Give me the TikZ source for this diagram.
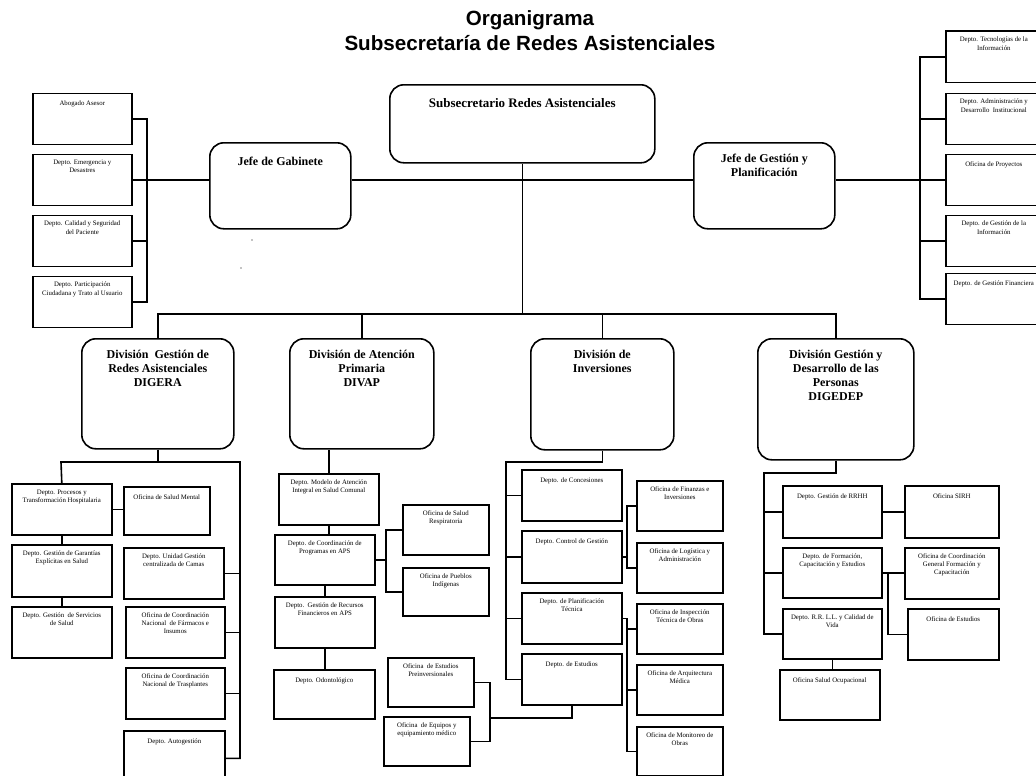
\documentclass[tikz,border=0pt]{standalone}
\usepackage{fontspec}
\setmainfont{Liberation Serif}
\newfontfamily\titlefont{Liberation Sans}
\usetikzlibrary{positioning}

\begin{document}
\begin{tikzpicture}[
  x=1pt, y=-1pt,
  line width=1.6pt,
  lab/.style={anchor=north, align=center, inner sep=0pt, yshift=-5.8pt,
    font=\fontsize{6.8}{8.3}\selectfont, execute at begin node={\rule{0pt}{6.5pt}}},
  blab/.style={anchor=north, align=center, inner sep=0pt, yshift=-11.5pt,
    font=\bfseries\fontsize{12}{13.8}\selectfont, execute at begin node={\rule{0pt}{11pt}}},
  box/.style={draw, anchor=north west, inner sep=0pt, minimum width=100pt,
    minimum height=51pt, label={[lab]north:{#1}}},
  rbox/.style={draw, anchor=north west, inner sep=0pt, rounded corners=14pt,
    label={[blab]north:{#1}}},
]
\useasboundingbox (0,0) rectangle (1036,776);
\clip (0,0) rectangle (1036,776);

% Title
\node[font=\titlefont\bfseries\fontsize{20.6}{25}\selectfont, align=center] (title) at (530,30.5)
  {Organigrama\\Subsecretaría de Redes Asistenciales};

% Top level
\node[draw, anchor=north west, inner sep=0pt, rounded corners=14pt, minimum width=265pt, minimum height=78pt,
  label={[blab, font=\bfseries\fontsize{13}{15}\selectfont]north:{Subsecretario Redes Asistenciales}}] (subsec) at (389,84) {};
\node[rbox={Jefe de Gabinete}, minimum width=141pt, minimum height=86pt] (gab) at (209,142) {};
\node[rbox={Jefe de Gestión y\\Planificación}, minimum width=141pt, minimum height=86pt] (gest) at (693,142) {};

% Divisions
\node[rbox={División\ \ Gestión de\\Redes Asistenciales\\DIGERA}, minimum width=152pt, minimum height=110pt] (digera) at (81,338) {};
\node[rbox={División de Atención\\Primaria\\DIVAP}, minimum width=144pt, minimum height=110pt] (divap) at (289,338) {};
\node[rbox={División de\\Inversiones}, minimum width=143pt, minimum height=111pt] (inver) at (530,338) {};
\node[rbox={División Gestión y\\Desarrollo de las\\Personas\\DIGEDEP}, minimum width=156pt, minimum height=121pt] (digedep) at (757,338) {};

% Gabinete staff
\node[box={Abogado Asesor}, minimum width=99pt] (abog) at (32,92.5) {};
\node[box={Depto. Emergencia y\\Desastres}, minimum width=99pt] (emer) at (32,153.5) {};
\node[box={Depto. Calidad y Seguridad\\del Paciente}, minimum width=99pt] (cal) at (32,214.5) {};
\node[box={Depto. Participación\\Ciudadana y Trato al Usuario}, minimum width=99pt] (part) at (32,275.5) {};

% Gestion y Planificacion staff
\node[box={Depto. Tecnologías de la\\Información}, minimum width=96pt] (tic) at (945,30.5) {};
\node[box={Depto. Administración y\\Desarrollo\ \ Institucional}, minimum width=96pt] (adm) at (945,92.5) {};
\node[box={Oficina de Proyectos}, minimum width=96pt] (proy) at (945,153.5) {};
\node[box={Depto. de Gestión de la\\Información}, minimum width=96pt] (ginfo) at (945,214.5) {};
\node[box={Depto. de Gestión Financiera}, minimum width=96pt] (gfin) at (945,272.5) {};

% DIGERA
\node[box={Depto. Procesos y\\Transformación Hospitalaria}] (proc) at (11,483) {};
\node[box={Depto. Gestión de Garantías\\Explícitas en Salud}, minimum height=52pt] (garant) at (11,544) {};
\node[box={Depto. Gestión\ \ de Servicios\\de Salud}] (serv) at (11,606) {};
\node[box={Oficina de Salud Mental}, minimum width=86pt, minimum height=48pt] (smental) at (123,486) {};
\node[box={Depto. Unidad Gestión\\centralizada de Camas}] (camas) at (123,547) {};
\node[box={Oficina de Coordinación\\Nacional\ \ de Fármacos e\\Insumos}, minimum width=99pt] (farm) at (125,606) {};
\node[box={Oficina de Coordinación\\Nacional de Trasplantes}, minimum width=99pt] (traspl) at (125,667) {};
\node[box={Depto. Autogestión}, minimum width=101pt, minimum height=55pt] (autog) at (123,730) {};

% DIVAP
\node[box={Depto. Modelo de Atención\\Integral en Salud Comunal}] (modelo) at (278,473) {};
\node[box={Depto. de Coordinación de\\Programas en APS}, minimum height=50pt] (progaps) at (274,534) {};
\node[box={Depto.\ \ Gestión de Recursos\\Financieros en APS}] (recfin) at (274,596) {};
\node[box={Depto. Odontológico}, minimum width=101pt, minimum height=49pt] (odonto) at (273,669) {};
\node[box={Oficina de Salud\\Respiratoria}, minimum width=86pt, minimum height=50pt] (sresp) at (402,504) {};
\node[box={Oficina de Pueblos\\Indígenas}, minimum width=86pt, minimum height=48pt] (pueblos) at (402,567) {};
\node[box={Oficina\ \ de Estudios\\Preinversionales}, minimum width=86pt, minimum height=49pt] (preinv) at (387,657) {};
\node[box={Oficina\ \ de Equipos y\\equipamiento médico}, minimum width=86pt, minimum height=49pt] (equipos) at (383,716) {};

% Inversiones
\node[box={Depto. de Concesiones}] (conc) at (521,469) {};
\node[box={Depto. Control de Gestión}, minimum height=52pt] (ctrl) at (521,530) {};
\node[box={Depto. de Planificación\\Técnica}] (plan) at (521,592) {};
\node[box={Depto. de Estudios}] (estud) at (521,653) {};
\node[box={Oficina de Finanzas e\\Inversiones}, minimum width=86pt, minimum height=50pt] (ofin) at (636,480) {};
\node[box={Oficina de Logística y\\Administración}, minimum width=86pt, minimum height=50pt] (olog) at (636,542) {};
\node[box={Oficina de Inspección\\Técnica de Obras}, minimum width=86pt, minimum height=50pt] (oinsp) at (636,603) {};
\node[box={Oficina de Arquitectura\\Médica}, minimum width=86pt, minimum height=50pt] (oarq) at (636,664) {};
\node[box={Oficina de Monitoreo de\\Obras}, minimum width=86pt, minimum height=49pt] (omon) at (636,726) {};

% DIGEDEP
\node[box={Depto. Gestión de RRHH}, minimum width=99pt, minimum height=52pt] (rrhh) at (782,485) {};
\node[box={Depto. de Formación,\\Capacitación y Estudios}, minimum width=99pt, minimum height=50pt] (form) at (782,547) {};
\node[box={Depto. R.R. L.L. y Calidad de\\Vida}, minimum width=99pt, minimum height=50pt] (rrll) at (782,608) {};
\node[box={Oficina Salud Ocupacional}, minimum height=50pt] (socup) at (779,669) {};
\node[box={Oficina SIRH}, minimum width=94pt, minimum height=52pt] (sirh) at (904,485) {};
\node[box={Oficina de Coordinación\\General Formación y\\Capacitación}, minimum width=94pt] (ocoord) at (904,547) {};
\node[box={Oficina de Estudios}, minimum width=91pt] (oest) at (907,608) {};

% Bus coordinates
\coordinate (lb) at (147,0);
\coordinate (rb) at (920,0);
\coordinate (dbus) at (0,314);
\coordinate (gl) at (61,462);
\coordinate (gr) at (240,462);
\coordinate (ab) at (386,0);
\coordinate (pj) at (490,718);
\coordinate (il) at (506,462);
\coordinate (ir) at (627,0);
\coordinate (dl) at (764,473);
\coordinate (db) at (888,0);

% Top connectors
\draw (abog.east) -- (abog.east -| lb) -- (part.east -| lb) -- (part.east);
\draw (cal.east) -- (cal.east -| lb);
\draw (emer.east) -- (gab.west |- emer.east);
\draw (gab.east |- emer.east) -- (gest.west |- emer.east);
\draw (gest.east |- emer.east) -- (proy.west);
\draw (tic.west) -- (tic.west -| rb) -- (gfin.west -| rb) -- (gfin.west);
\draw (adm.west) -- (adm.west -| rb);
\draw (ginfo.west) -- (ginfo.west -| rb);
\draw (subsec.south) -- (subsec.south |- dbus);
\draw (digera.north) -- (digera.north |- dbus) -- (digedep.north |- dbus) -- (digedep.north);
\draw (divap.north) -- (divap.north |- dbus);
\draw (inver.north) -- (inver.north |- dbus);

% DIGERA connectors
\draw (digera.south) -- (digera.south |- gl);
\draw (proc.north) -- (gl) -- (gr) -- (autog.east -| gr) -- (autog.east);
\draw (camas.east) -- (camas.east -| gr);
\draw (farm.east) -- (farm.east -| gr);
\draw (traspl.east) -- (traspl.east -| gr);
\draw (proc.south) -- (garant.north);
\draw (garant.south) -- (serv.north);
\draw (proc.east) -- (smental.west |- proc.east);

% DIVAP connectors
\draw (modelo.north) -- (modelo.north |- divap.south);
\draw (modelo.south) -- (modelo.south |- progaps.north);
\draw (progaps.south) -- (recfin.north);
\draw (recfin.south) -- (recfin.south |- odonto.north);
\draw (progaps.east) -- (progaps.east -| ab);
\draw (sresp.west) -- (sresp.west -| ab) -- (pueblos.west -| ab) -- (pueblos.west);
\draw (preinv.east) -- (preinv.east -| pj) -- (equipos.east -| pj) -- (equipos.east);

% Inversiones connectors
\draw (inver.south) -- (inver.south |- il) -- (il) -- (il |- estud.west) -- (estud.west);
\draw (conc.west) -- (conc.west -| il);
\draw (ctrl.west) -- (ctrl.west -| il);
\draw (plan.west) -- (plan.west -| il);
\draw (estud.south) -- (estud.south |- pj) -- (pj);
\draw (ctrl.east) -- (ctrl.east -| ir);
\draw (ofin.west) -- (ofin.west -| ir) -- (olog.west -| ir) -- (olog.west);
\draw (plan.east) -- (plan.east -| ir) -- (omon.west -| ir) -- (omon.west);
\draw (oinsp.west) -- (oinsp.west -| ir);
\draw (oarq.west) -- (oarq.west -| ir);

% DIGEDEP connectors
\draw (digedep.south) -- (digedep.south |- dl) -- (dl) -- (dl |- rrll.west) -- (rrll.west);
\draw (rrhh.west) -- (rrhh.west -| dl);
\draw (form.west) -- (form.west -| dl);
\draw (rrhh.east) -- (sirh.west);
\draw (form.east) -- (ocoord.west |- form.east);
\draw (form.east -| db) -- (oest.west -| db) -- (oest.west);
\draw (rrll.south) -- (rrll.south |- socup.north);

% stray marks
\fill (252,240) circle (0.7pt);
\fill (241,268) circle (0.7pt);
\end{tikzpicture}
\end{document}
